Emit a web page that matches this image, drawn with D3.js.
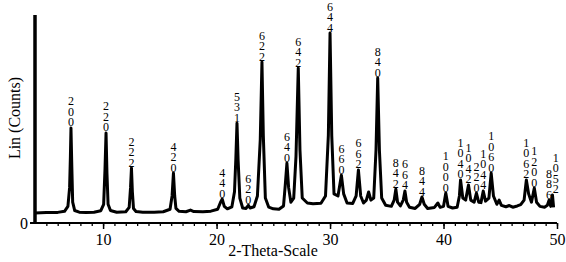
<!DOCTYPE html>
<html>
<head>
<meta charset="utf-8">
<script src="https://cdn.jsdelivr.net/npm/d3@7"></script>
<style>
  body { margin: 0; background: #fff; }
  text { font-family: "Liberation Serif", "Times New Roman", serif; fill: #000; }
</style>
</head>
<body>
<div id="container"></div>
<script>
/* CONSTANTS AND GLOBALS */
const width = 566,
  height = 262,
  margin = { top: 15, right: 9, bottom: 39, left: 35 };

/* DATA */
const profileTheta = [4.0, 5.0, 6.0, 6.6, 6.9, 7.05, 7.12, 7.17, 7.24, 7.32, 7.5, 7.9, 8.5, 9.2, 9.8,
  10.05, 10.17, 10.26, 10.34, 10.44, 10.65, 11.2, 12.0, 12.3, 12.42, 12.5, 12.58, 12.68, 12.9, 13.5,
  14.5, 15.3, 15.9, 16.08, 16.2, 16.31, 16.42, 16.7, 17.3, 17.7, 18.0, 18.8, 19.5, 20.1, 20.35,
  20.5, 20.68, 20.95, 21.35, 21.58, 21.7, 21.8, 21.9, 22.05, 22.3, 22.6, 22.8, 22.95, 23.3, 23.6,
  23.85, 24.0, 24.12, 24.3, 24.6, 25.0, 25.5, 25.9, 26.05, 26.2, 26.35, 26.55, 26.8, 27.0, 27.2,
  27.35, 27.55, 28.0, 28.5, 29.2, 29.6, 29.85, 30.0, 30.15, 30.35, 30.7, 31.0, 31.2, 31.5, 32.0,
  32.3, 32.5, 32.7, 32.95, 33.2, 33.4, 33.6, 33.85, 34.05, 34.2, 34.35, 34.55, 34.9, 35.4, 35.65,
  35.8, 35.95, 36.2, 36.45, 36.6, 36.75, 37.0, 37.5, 37.9, 38.1, 38.3, 38.6, 39.2, 39.5, 39.7,
  40.0, 40.2, 40.4, 40.8, 41.2, 41.4, 41.5, 41.7, 41.95, 42.2, 42.4, 42.7, 42.9, 43.1, 43.3,
  43.5, 43.7, 44.0, 44.2, 44.4, 44.7, 44.9, 45.1, 45.5, 45.8, 46.1, 46.5, 46.8, 47.1, 47.3,
  47.5, 47.75, 48.0, 48.2, 48.5, 48.9, 49.15, 49.3, 49.45, 49.6, 49.7];
const profileCounts = [4.8, 5.0, 5.1, 5.6, 8, 17, 32, 45.7, 28, 10, 6, 5.2, 5.0, 5.2, 5.9,
  9, 26, 43.3, 24, 9, 6, 5.2, 5.4, 7.5, 17, 26.4, 15, 7, 5.5, 5.2,
  5.2, 5.4, 6.6, 13, 24, 13, 7, 5.6, 5.4, 6.2, 5.5, 5.4, 5.7, 6.6, 10,
  11.5, 8, 6.8, 7.8, 15, 31, 48, 30, 12, 7.2, 7.0, 8.5, 7.2, 7.8, 13,
  40, 77.4, 42, 12, 7.6, 6.8, 6.6, 8.2, 18, 28.8, 17, 10, 12, 32, 74.5,
  35, 12, 9.6, 9.3, 9.5, 13, 42, 91.3, 42, 14, 13, 23, 14, 9.6, 9.4,
  13, 25.5, 13, 9.6, 11, 14.9, 11, 12, 35, 69.7, 35, 12, 8.5, 8.0, 11,
  16.3, 10, 8.2, 11, 15.4, 10, 7.6, 7.0, 9, 12.5, 9, 7.0, 7.5, 9.6, 7.5,
  8, 14.4, 8, 7.2, 7.6, 13, 20.7, 12, 11, 18.3, 11, 10, 14.4, 10, 9.8,
  15.4, 10.5, 12, 24, 13, 9, 11, 8.5, 7.8, 8.4, 7.6, 8.2, 8.8, 11, 20.7,
  14, 10, 16.8, 10, 8, 7.6, 8.5, 11, 8, 13.5, 7.5];

const peakTheta = [7.17, 10.26, 12.5, 16.2, 20.5, 21.8, 22.8, 24.0, 26.2, 27.2, 30.0, 31.0, 32.5,
  34.2, 35.8, 36.6, 38.1, 40.2, 41.5, 42.2, 42.9, 43.5, 44.2, 47.3, 48.0, 49.3, 49.9];
const peakCounts = [45.7, 43.3, 26.4, 24, 11.5, 48, 8.5, 77.4, 28.8, 74.5, 91.3, 23, 25.5,
  69.7, 16.3, 15.4, 12.5, 14.4, 20.7, 18.3, 14.4, 15.4, 24, 20.7, 16.8, 11, 13.5];
const peakLabels = ["200", "220", "222", "420", "440", "531", "620", "622", "640", "642", "644", "660", "662",
  "840", "842", "664", "844", "1000", "1040", "1042", "220", "1044", "1060", "1062", "1200", "886", "1052"];

const xMajorTicks = [10, 20, 30, 40, 50];
const xMinorTicks = d3.range(5, 51);

/* SCALES */
const xScale = d3.scaleLinear()
  .domain([4, 50])
  .range([margin.left, width - margin.right]);

const yScale = d3.scaleLinear()
  .domain([0, 100])
  .range([height - margin.bottom, margin.top]);

const svg = d3.select("#container").append("svg")
  .attr("width", width)
  .attr("height", height);

/* AXES */
const y0 = yScale(0);

svg.append("g")
  .attr("transform", `translate(0,${y0})`)
  .call(d3.axisBottom(xScale).tickValues(xMinorTicks).tickSize(3).tickFormat(""))
  .call(g => g.select(".domain").remove())
  .selectAll("line").attr("stroke-width", 1.3);

svg.append("g")
  .attr("class", "x-axis")
  .attr("transform", `translate(0,${y0})`)
  .call(d3.axisBottom(xScale).tickValues(xMajorTicks).tickSize(6).tickPadding(5).tickSizeOuter(0))
  .call(g => g.select(".domain").remove())
  .call(g => g.selectAll("line").attr("stroke-width", 1.5))
  .call(g => g.selectAll("text")
    .style("font-family", "'Liberation Serif', serif")
    .style("font-size", "16px"));

// x axis baseline, running a little left of the y axis
svg.append("line")
  .attr("x1", margin.left - 5).attr("x2", xScale(50))
  .attr("y1", y0).attr("y2", y0)
  .attr("stroke", "#000").attr("stroke-width", 2.2);

// y axis: heavy bar, only a 0 label
svg.append("line")
  .attr("x1", margin.left).attr("x2", margin.left)
  .attr("y1", yScale(100)).attr("y2", y0)
  .attr("stroke", "#000").attr("stroke-width", 3.5);

svg.append("text")
  .attr("x", margin.left - 7).attr("y", y0)
  .attr("dy", "0.35em")
  .attr("text-anchor", "end")
  .style("font-size", "16px")
  .text("0");

svg.append("text")
  .attr("transform", `translate(20,${(margin.top + y0) / 2 - 1}) rotate(-90)`)
  .attr("text-anchor", "middle")
  .style("font-size", "16px")
  .text("Lin (Counts)");

svg.append("text")
  .attr("x", 273).attr("y", 256)
  .attr("text-anchor", "middle")
  .style("font-size", "16px")
  .text("2-Theta-Scale");

/* PATTERN */
const profile = profileTheta.map((t, i) => ({ theta: t, counts: profileCounts[i] }));

const line = d3.line()
  .x(d => xScale(d.theta))
  .y(d => yScale(d.counts));

svg.append("path")
  .datum(profile)
  .attr("fill", "none")
  .attr("stroke", "#000")
  .attr("stroke-width", 3)
  .attr("stroke-linejoin", "round")
  .attr("d", line);

/* PEAK LABELS (digits stacked vertically) */
const peaks = peakTheta.map((t, i) => ({ theta: t, counts: peakCounts[i], label: peakLabels[i] }));

const labelGroups = svg.selectAll(".peak-label")
  .data(peaks)
  .join("g")
  .attr("class", "peak-label")
  .attr("transform", d => `translate(${xScale(d.theta)},${yScale(d.counts) - 1.5})`);

labelGroups.selectAll("text")
  .data(d => d.label.split("").reverse())
  .join("text")
  .attr("y", (c, i) => -i * 10.5)
  .attr("text-anchor", "middle")
  .style("font-size", "12px")
  .text(c => c);
</script>
</body>
</html>
